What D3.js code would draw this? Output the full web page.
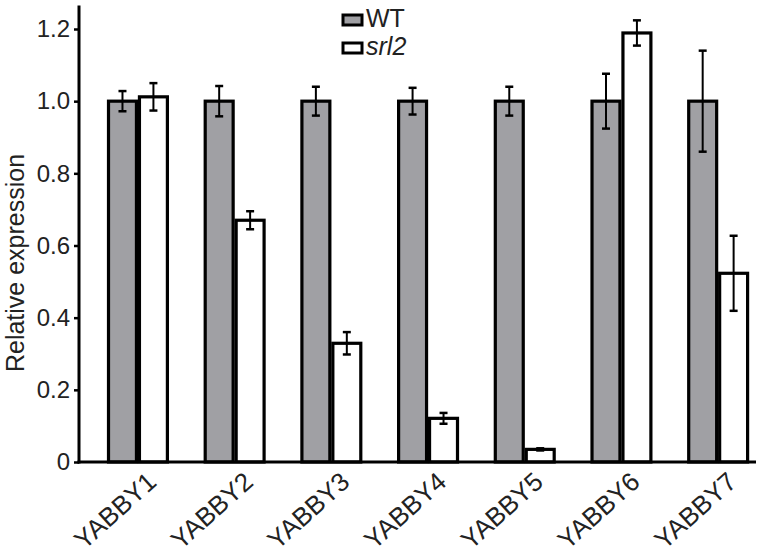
<!DOCTYPE html>
<html>
<head>
<meta charset="utf-8">
<script src="https://cdn.jsdelivr.net/npm/d3@7"></script>
<style>
  html, body { margin: 0; padding: 0; background: #fff; }
  svg { display: block; font-family: "Liberation Sans", Arial, sans-serif; }
</style>
</head>
<body>
<svg id="chart" width="759" height="560"></svg>
<script>
const categories = ["YABBY1", "YABBY2", "YABBY3", "YABBY4", "YABBY5", "YABBY6", "YABBY7"];
const seriesNames = ["WT", "srl2"];
const wtValues = [1.0, 1.0, 1.0, 1.0, 1.0, 1.0, 1.0];
const wtErrors = [0.028, 0.042, 0.04, 0.037, 0.04, 0.076, 0.14];
const srl2Values = [1.012, 0.67, 0.329, 0.121, 0.035, 1.189, 0.523];
const srl2Errors = [0.038, 0.025, 0.031, 0.015, 0.003, 0.035, 0.104];
const yTicks = [0, 0.2, 0.4, 0.6, 0.8, 1.0, 1.2];
const yTickLabels = ["0", "0.2", "0.4", "0.6", "0.8", "1.0", "1.2"];

const svg = d3.select("#chart");
const y = d3.scaleLinear().domain([0, 1.2]).range([462, 29]);
const x0 = d3.scaleBand().domain(categories).range([89.6, 766.5]).paddingInner(0.36).paddingOuter(0.18);
const x1 = d3.scaleBand().domain(seriesNames).range([0, x0.bandwidth()]);
const fills = { WT: "#a0a0a4", srl2: "#ffffff" };

const data = categories.map((c, i) => ({
  cat: c,
  items: [
    { s: "WT", v: wtValues[i], e: wtErrors[i] },
    { s: "srl2", v: srl2Values[i], e: srl2Errors[i] }
  ]
}));

const groups = svg.append("g").selectAll("g").data(data).join("g")
  .attr("transform", d => `translate(${x0(d.cat)},0)`);

groups.selectAll("rect").data(d => d.items).join("rect")
  .attr("x", d => x1(d.s) + 1.5)
  .attr("width", x1.bandwidth() - 3)
  .attr("y", d => y(d.v))
  .attr("height", d => y(0) - y(d.v))
  .attr("fill", d => fills[d.s])
  .attr("stroke", "#000")
  .attr("stroke-width", 3.2);

const eb = groups.selectAll("g.eb").data(d => d.items).join("g").attr("class", "eb");
eb.append("line")
  .attr("x1", d => x1(d.s) + x1.bandwidth() / 2)
  .attr("x2", d => x1(d.s) + x1.bandwidth() / 2)
  .attr("y1", d => y(d.v + d.e))
  .attr("y2", d => y(d.v - d.e))
  .attr("stroke", "#000").attr("stroke-width", 2);
eb.selectAll("line.cap").data(d => [{ d, v: d.v + d.e }, { d, v: d.v - d.e }]).join("line")
  .attr("class", "cap")
  .attr("x1", o => x1(o.d.s) + x1.bandwidth() / 2 - 4)
  .attr("x2", o => x1(o.d.s) + x1.bandwidth() / 2 + 4)
  .attr("y1", o => y(o.v))
  .attr("y2", o => y(o.v))
  .attr("stroke", "#000").attr("stroke-width", 2.5);

// Y axis
const yAxis = d3.axisLeft(y).tickValues(yTicks).tickFormat((d, i) => yTickLabels[i]).tickSizeOuter(0).tickSize(5).tickPadding(4);
const gy = svg.append("g").attr("transform", "translate(79,0)").call(yAxis);
gy.select(".domain").remove();
gy.selectAll(".tick line").attr("stroke", "#000").attr("stroke-width", 2.5);
gy.selectAll(".tick text").attr("font-size", 24).attr("fill", "#222")
  .attr("font-family", "Liberation Sans, Arial, sans-serif");
svg.append("line").attr("x1", 79).attr("x2", 79).attr("y1", y(1.265)).attr("y2", y(0) + 1.5)
  .attr("stroke", "#000").attr("stroke-width", 3);

// X axis
svg.append("line").attr("x1", 77.5).attr("x2", 756).attr("y1", y(0)).attr("y2", y(0))
  .attr("stroke", "#000").attr("stroke-width", 3);
const xAxis = d3.axisBottom(x0).tickSize(0).tickPadding(0);
const gx = svg.append("g").attr("transform", `translate(0,${y(0)})`).call(xAxis);
gx.select(".domain").remove();
gx.selectAll(".tick text")
  .attr("font-size", 26).attr("fill", "#222")
  .attr("font-family", "Liberation Sans, Arial, sans-serif")
  .attr("text-anchor", "end")
  .attr("dy", null)
  .attr("transform", "translate(20,22) rotate(-42)");

// Y axis title
svg.append("text")
  .attr("transform", "translate(24,263) rotate(-90)")
  .attr("text-anchor", "middle")
  .attr("font-size", 25).attr("fill", "#222")
  .text("Relative expression");

// Legend
const legend = svg.append("g");
seriesNames.forEach((s, i) => {
  const ly = 15 + i * 28;
  legend.append("rect").attr("x", 343).attr("y", ly).attr("width", 19).attr("height", 10)
    .attr("fill", fills[s]).attr("stroke", "#000").attr("stroke-width", 3);
  legend.append("text").attr("x", 366).attr("y", ly + 12)
    .attr("font-size", 25).attr("fill", "#222")
    .attr("font-style", s === "srl2" ? "italic" : "normal")
    .text(s);
});
</script>
</body>
</html>
